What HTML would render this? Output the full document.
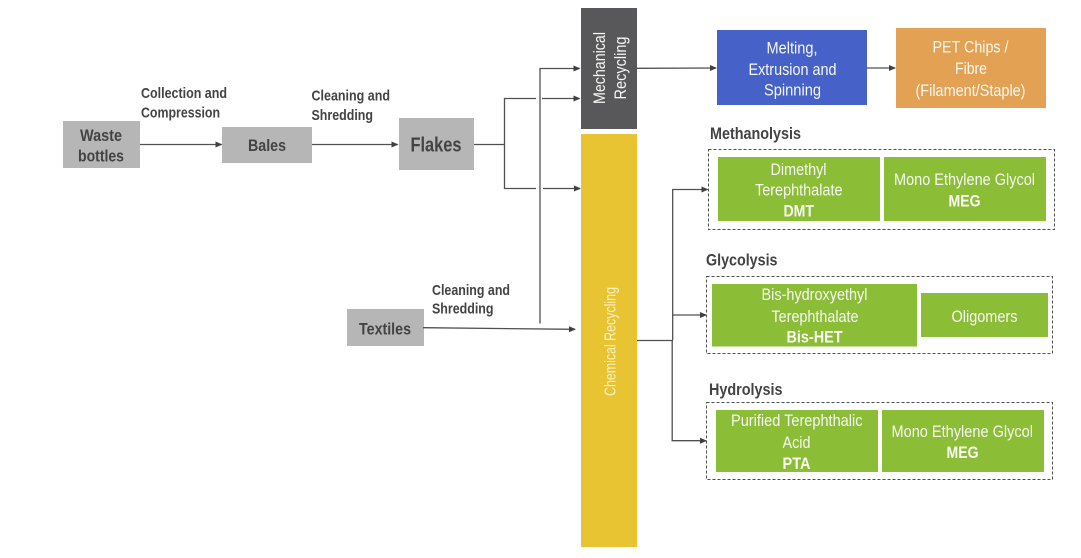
<!DOCTYPE html>
<html>
<head>
<meta charset="utf-8">
<style>
html,body{margin:0;padding:0;background:#fff;}
svg{display:block;}
text{font-family:"Liberation Sans",Arial,sans-serif;}
.s{font-weight:700;fill:#434345;font-size:15px;}
.h{font-weight:700;fill:#434345;font-size:16.500px;}
.n{font-weight:700;fill:#434345;font-size:17px;}
.w{fill:#f6f8f2;font-size:17px;}
.wb{fill:#f9fbf2;font-size:16.500px;font-weight:700;}
.l{stroke:#505052;stroke-width:1.300;fill:none;}
.d{fill:none;stroke:#505052;stroke-width:1;stroke-dasharray:3 2;}
</style>
</head>
<body>
<svg width="1081" height="558" viewBox="0 0 1081 558" xmlns="http://www.w3.org/2000/svg">
<defs>
<marker id="a" markerWidth="8" markerHeight="7" refX="6" refY="3" orient="auto" markerUnits="userSpaceOnUse"><path d="M0,0 L7,3 L0,6 Z" fill="#404042"/></marker>
</defs>
<rect width="1081" height="558" fill="#fff"/>

<rect x="63" y="121" width="77" height="47" fill="#b6b6b6"/>
<text class="n" x="80" y="141" textLength="42" lengthAdjust="spacingAndGlyphs">Waste</text>
<text class="n" x="78" y="161.500" textLength="46" lengthAdjust="spacingAndGlyphs">bottles</text>
<rect x="222" y="127" width="90" height="36" fill="#b6b6b6"/>
<text class="n" x="248" y="151" textLength="38" lengthAdjust="spacingAndGlyphs">Bales</text>
<rect x="399" y="118" width="75" height="52" fill="#b6b6b6"/>
<text class="n" style="font-size:20px" x="410.500" y="151.500" textLength="51" lengthAdjust="spacingAndGlyphs">Flakes</text>
<rect x="347" y="309" width="77" height="37" fill="#b6b6b6"/>
<text class="n" x="359" y="334.500" textLength="52" lengthAdjust="spacingAndGlyphs">Textiles</text>

<text class="s" x="141" y="98" textLength="86" lengthAdjust="spacingAndGlyphs">Collection and</text>
<text class="s" x="141" y="117.500" textLength="79" lengthAdjust="spacingAndGlyphs">Compression</text>
<text class="s" x="311.500" y="100.500" textLength="78.500" lengthAdjust="spacingAndGlyphs">Cleaning and</text>
<text class="s" x="311.500" y="120" textLength="61.500" lengthAdjust="spacingAndGlyphs">Shredding</text>
<text class="s" x="432" y="295" textLength="78" lengthAdjust="spacingAndGlyphs">Cleaning and</text>
<text class="s" x="432" y="313.500" textLength="61.500" lengthAdjust="spacingAndGlyphs">Shredding</text>

<rect x="581" y="8" width="56" height="121" fill="#58585a"/>
<text class="w" transform="translate(605,104) rotate(-90)" textLength="72" lengthAdjust="spacingAndGlyphs">Mechanical</text>
<text class="w" transform="translate(626,99.500) rotate(-90)" textLength="63" lengthAdjust="spacingAndGlyphs">Recycling</text>
<rect x="581" y="134" width="56" height="413" fill="#e8c432"/>
<text style="fill:#fbf1c4;font-size:16px" transform="translate(615.500,396) rotate(-90)" textLength="109" lengthAdjust="spacingAndGlyphs">Chemical Recycling</text>

<rect x="717" y="30" width="150" height="75" fill="#4662c8"/>
<text class="w" x="766.500" y="53.500" textLength="51" lengthAdjust="spacingAndGlyphs">Melting,</text>
<text class="w" x="748.500" y="75" textLength="88" lengthAdjust="spacingAndGlyphs">Extrusion and</text>
<text class="w" x="764" y="95.500" textLength="57" lengthAdjust="spacingAndGlyphs">Spinning</text>
<rect x="896" y="28" width="150" height="80" fill="#e3a253"/>
<text class="w" x="932.500" y="52.500" textLength="76" lengthAdjust="spacingAndGlyphs">PET Chips /</text>
<text class="w" x="955" y="74" textLength="32" lengthAdjust="spacingAndGlyphs">Fibre</text>
<text class="w" x="915.500" y="96" textLength="110" lengthAdjust="spacingAndGlyphs">(Filament/Staple)</text>

<text class="h" x="710" y="139" textLength="91" lengthAdjust="spacingAndGlyphs">Methanolysis</text>
<rect class="d" x="708.500" y="149.500" width="346" height="80"/>
<rect x="718" y="157" width="162" height="64" fill="#8bbd36"/>
<text class="w" x="770.500" y="175" textLength="56" lengthAdjust="spacingAndGlyphs">Dimethyl</text>
<text class="w" x="755" y="195.500" textLength="87.500" lengthAdjust="spacingAndGlyphs">Terephthalate</text>
<text class="wb" x="783.500" y="216.500" textLength="30.500" lengthAdjust="spacingAndGlyphs">DMT</text>
<rect x="884" y="157" width="162" height="64" fill="#8bbd36"/>
<text class="w" x="894" y="185" textLength="141" lengthAdjust="spacingAndGlyphs">Mono Ethylene Glycol</text>
<text class="wb" x="948.500" y="206.500" textLength="32" lengthAdjust="spacingAndGlyphs">MEG</text>

<text class="h" x="706" y="265.500" textLength="71.500" lengthAdjust="spacingAndGlyphs">Glycolysis</text>
<rect class="d" x="706.500" y="276.500" width="346" height="77"/>
<rect x="712" y="284" width="205" height="62.500" fill="#8bbd36"/>
<text class="w" x="761.500" y="300" textLength="106" lengthAdjust="spacingAndGlyphs">Bis-hydroxyethyl</text>
<text class="w" x="771.500" y="322" textLength="87" lengthAdjust="spacingAndGlyphs">Terephthalate</text>
<text class="wb" x="786.500" y="342.500" textLength="56" lengthAdjust="spacingAndGlyphs">Bis-HET</text>
<rect x="921" y="293" width="127" height="44" fill="#8bbd36"/>
<text class="w" x="951.500" y="322" textLength="66" lengthAdjust="spacingAndGlyphs">Oligomers</text>

<text class="h" x="709" y="395" textLength="73.500" lengthAdjust="spacingAndGlyphs">Hydrolysis</text>
<rect class="d" x="706.500" y="402.500" width="346" height="77"/>
<rect x="716" y="410" width="162" height="62" fill="#8bbd36"/>
<text class="w" x="731" y="426" textLength="131.500" lengthAdjust="spacingAndGlyphs">Purified Terephthalic</text>
<text class="w" x="782.500" y="448" textLength="28" lengthAdjust="spacingAndGlyphs">Acid</text>
<text class="wb" x="782.500" y="469" textLength="28" lengthAdjust="spacingAndGlyphs">PTA</text>
<rect x="882" y="410" width="162" height="62" fill="#8bbd36"/>
<text class="w" x="891.500" y="437" textLength="141.500" lengthAdjust="spacingAndGlyphs">Mono Ethylene Glycol</text>
<text class="wb" x="946.500" y="458" textLength="32" lengthAdjust="spacingAndGlyphs">MEG</text>

<line class="l" x1="140" y1="144.500" x2="221.500" y2="144.500" marker-end="url(#a)"/>
<line class="l" x1="312" y1="144.500" x2="397.500" y2="144.500" marker-end="url(#a)"/>
<line class="l" x1="474" y1="144.500" x2="505" y2="144.500"/>
<path class="l" d="M536,98.500 H504.500 V188.500 H536"/>
<line class="l" x1="542" y1="98.500" x2="579.500" y2="98.500" marker-end="url(#a)"/>
<line class="l" x1="543" y1="188.500" x2="580" y2="188.500" marker-end="url(#a)"/>
<path class="l" d="M540,323.500 V68.500 H579.500" marker-end="url(#a)"/>
<line class="l" x1="423" y1="327.700" x2="575" y2="329.300" marker-end="url(#a)"/>
<line class="l" x1="637" y1="68.300" x2="716" y2="68" marker-end="url(#a)"/>
<line class="l" x1="867" y1="68" x2="895" y2="68" marker-end="url(#a)"/>
<line class="l" x1="637" y1="340.500" x2="673" y2="340.500"/>
<path class="l" d="M672.700,340 V189.500 H707.500" marker-end="url(#a)"/>
<line class="l" x1="672.500" y1="315" x2="706" y2="315" marker-end="url(#a)"/>
<path class="l" d="M672.200,340 V440.700 H706" marker-end="url(#a)"/>
</svg>
</body>
</html>
